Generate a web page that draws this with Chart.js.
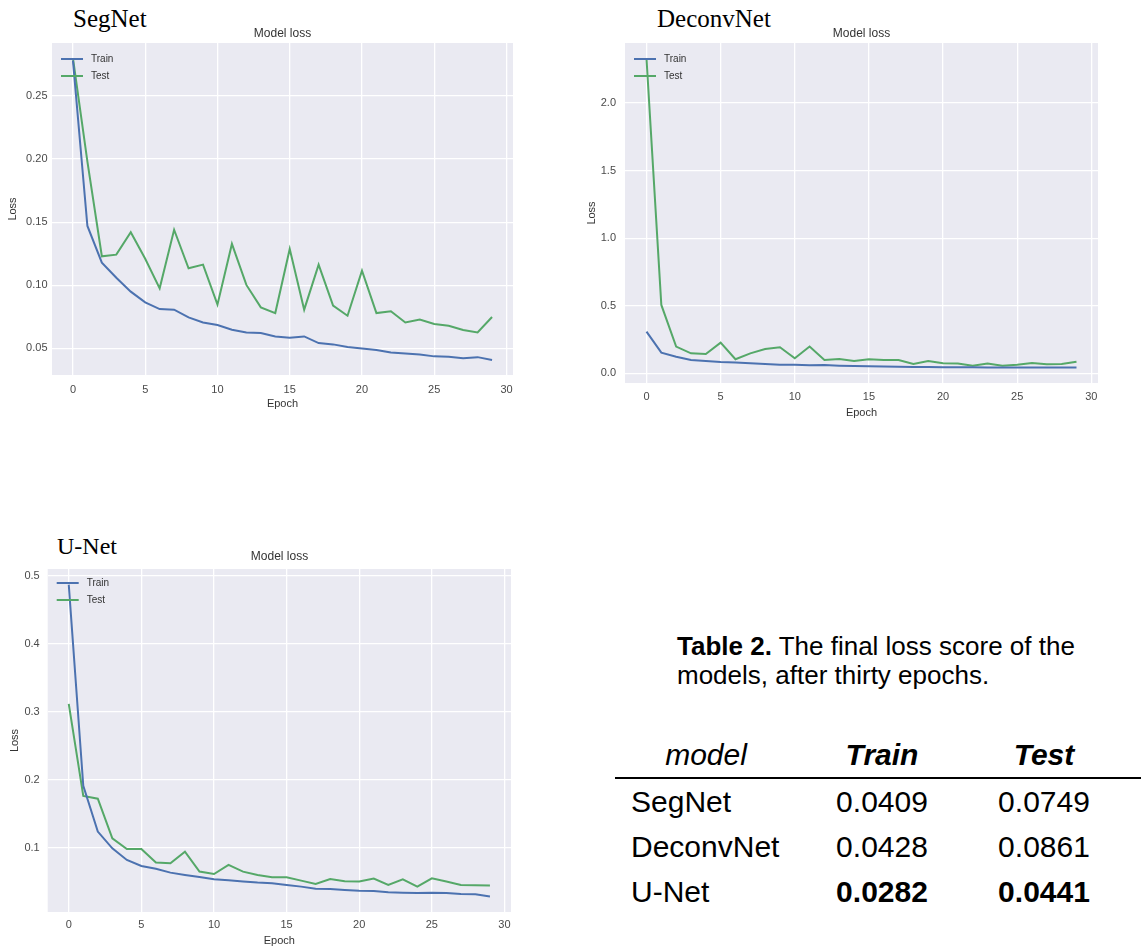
<!DOCTYPE html>
<html>
<head>
<meta charset="utf-8">
<script src="https://cdn.jsdelivr.net/npm/chart.js@4.4.1/dist/chart.umd.min.js"></script>
<style>
  html, body { margin: 0; padding: 0; background: #fff; }
  #page { position: relative; width: 1141px; height: 949px; overflow: hidden; }
  canvas { position: absolute; }
  .name { position: absolute; font-family: "Liberation Serif", "Times New Roman", serif; font-size: 25px; line-height: 25px; color: #000; }
  .caption { position: absolute; left: 677px; top: 632px; font-family: "Liberation Sans", Arial, sans-serif; font-size: 26px; line-height: 29px; color: #000; }
  table.scores { position: absolute; left: 615px; top: 732px; width: 526px; border-collapse: collapse; table-layout: fixed;
    font-family: "Liberation Sans", Arial, sans-serif; font-size: 30px; line-height: 45px; color: #000; }
  table.scores td, table.scores th { padding: 0; text-align: center; font-weight: normal; white-space: nowrap; }
  table.scores thead th { border-bottom: 2px solid #000; }
  table.scores td.model { text-align: left; padding-left: 16px; }
</style>
</head>
<body>
<div id="page">
  <div class="name" style="left:73px; top:6px;">SegNet</div>
  <div class="name" style="left:657px; top:6px;">DeconvNet</div>
  <div class="name" style="left:57px; top:534px; font-size:24px;">U-Net</div>

  <canvas id="chartSegNet" width="565" height="420" style="left:0px; top:0px;"></canvas>
  <canvas id="chartDeconvNet" width="559" height="430" style="left:582px; top:0px;"></canvas>
  <canvas id="chartUNet" width="559" height="419" style="left:0px; top:530px;"></canvas>

  <div class="caption"><b>Table 2.</b> The final loss score of the<br>models, after thirty epochs.</div>
  <table class="scores">
    <colgroup><col style="width:182px"><col style="width:170px"><col style="width:154px"><col style="width:20px"></colgroup>
    <thead>
      <tr><th><i>model</i></th><th><b><i>Train</i></b></th><th><b><i>Test</i></b></th><th></th></tr>
    </thead>
    <tbody id="scoreRows"></tbody>
  </table>
</div>

<script>
// valores
const EPOCHS = [0, 1, 2, 3, 4, 5, 6, 7, 8, 9, 10, 11, 12, 13, 14, 15, 16, 17, 18, 19, 20, 21, 22, 23, 24, 25, 26, 27, 28, 29];
const X_TICKS = [0, 5, 10, 15, 20, 25, 30];

const SEGNET_TRAIN = [0.278, 0.147, 0.118, 0.106, 0.095, 0.0865, 0.0812, 0.0807, 0.0746, 0.0706, 0.0685, 0.0648, 0.0627, 0.0622, 0.0595, 0.0585, 0.0595, 0.0542, 0.0532, 0.0511, 0.0500, 0.0487, 0.0468, 0.0460, 0.0452, 0.0437, 0.0434, 0.0423, 0.0431, 0.0409];
const SEGNET_TEST = [0.280, 0.198, 0.123, 0.1243, 0.142, 0.121, 0.0976, 0.144, 0.1135, 0.1164, 0.0847, 0.1328, 0.1003, 0.0825, 0.0780, 0.1288, 0.0807, 0.1164, 0.0839, 0.0759, 0.1116, 0.0780, 0.0794, 0.0706, 0.0728, 0.0693, 0.0680, 0.0646, 0.0627, 0.0749];
const SEGNET_Y_TICKS = [0.05, 0.10, 0.15, 0.20, 0.25];

const DECONV_TRAIN = [0.309, 0.153, 0.123, 0.099, 0.091, 0.084, 0.081, 0.074, 0.069, 0.064, 0.064, 0.059, 0.062, 0.057, 0.054, 0.052, 0.050, 0.049, 0.047, 0.047, 0.045, 0.045, 0.045, 0.044, 0.044, 0.043, 0.044, 0.043, 0.043, 0.0428];
const DECONV_TEST = [2.33, 0.506, 0.198, 0.148, 0.143, 0.227, 0.104, 0.148, 0.180, 0.193, 0.111, 0.198, 0.099, 0.106, 0.091, 0.104, 0.099, 0.099, 0.069, 0.091, 0.074, 0.072, 0.057, 0.072, 0.057, 0.064, 0.077, 0.067, 0.069, 0.0861];
const DECONV_Y_TICKS = [0.0, 0.5, 1.0, 1.5, 2.0];

const UNET_TRAIN = [0.487, 0.191, 0.1236, 0.099, 0.0818, 0.073, 0.069, 0.0632, 0.0598, 0.0568, 0.0534, 0.0519, 0.050, 0.0485, 0.0475, 0.045, 0.0426, 0.0396, 0.0391, 0.0377, 0.0367, 0.0362, 0.0342, 0.0337, 0.0333, 0.0337, 0.0333, 0.0318, 0.0313, 0.0282];
const UNET_TEST = [0.3115, 0.176, 0.172, 0.1137, 0.098, 0.098, 0.078, 0.077, 0.094, 0.0647, 0.0612, 0.0745, 0.0647, 0.0598, 0.0563, 0.0563, 0.0514, 0.0465, 0.0539, 0.0504, 0.050, 0.0544, 0.045, 0.0534, 0.0426, 0.0548, 0.050, 0.045, 0.0445, 0.0441];
const UNET_Y_TICKS = [0.1, 0.2, 0.3, 0.4, 0.5];

// tabla 2
const TABLE_MODELS = ['SegNet', 'DeconvNet', 'U-Net'];
const TABLE_TRAIN = ['0.0409', '0.0428', '0.0282'];
const TABLE_TEST = ['0.0749', '0.0861', '0.0441'];
const TABLE_BEST_ROW = 2;

(() => {
  const FONT = '"Liberation Sans", Arial, sans-serif';
  const BLUE = '#4C72B0';
  const GREEN = '#55A868';
  const TICK_COLOR = '#4a4a4a';

  // margen de 5% como matplotlib
  const pad5 = (lo, hi) => { const m = (hi - lo) * 0.05; return [lo - m, hi + m]; };
  const toPoints = arr => EPOCHS.map((e, i) => ({ x: e, y: arr[i] }));

  const plotBg = {
    id: 'plotBg',
    beforeDraw(chart) {
      const { ctx, chartArea: a } = chart;
      ctx.save();
      ctx.fillStyle = '#EAEAF2';
      ctx.fillRect(a.left, a.top, a.right - a.left, a.bottom - a.top);
      ctx.restore();
    }
  };

  // leyenda dentro del area, estilo matplotlib (upper left)
  const innerLegend = {
    id: 'innerLegend',
    afterDraw(chart, args, opts) {
      const { ctx, chartArea: a } = chart;
      ctx.save();
      ctx.font = `10px ${FONT}`;
      ctx.textBaseline = 'middle';
      chart.data.datasets.forEach((ds, i) => {
        const y = a.top + opts.top + i * 17;
        ctx.strokeStyle = ds.borderColor;
        ctx.lineWidth = ds.borderWidth;
        ctx.beginPath();
        ctx.moveTo(a.left + 9, y);
        ctx.lineTo(a.left + 31, y);
        ctx.stroke();
        ctx.fillStyle = '#333';
        ctx.fillText(ds.label, a.left + 39, y);
      });
      ctx.restore();
    }
  };

  function drawLossChart(id, train, test, yTicks, decimals, g) {
    const all = train.concat(test);
    const [ymin, ymax] = pad5(Math.min(...all), Math.max(...all));
    const [xmin, xmax] = pad5(EPOCHS[0], EPOCHS[EPOCHS.length - 1]);
    const line = (label, data, color) => ({
      label, data: toPoints(data), borderColor: color, backgroundColor: color,
      borderWidth: 2, pointRadius: 0, tension: 0
    });
    return new Chart(document.getElementById(id), {
      type: 'line',
      data: { datasets: [line('Train', train, BLUE), line('Test', test, GREEN)] },
      options: {
        responsive: false,
        animation: false,
        layout: { padding: 0 },
        plugins: {
          title: {
            display: true, text: 'Model loss', color: '#333',
            font: { size: 12, family: FONT, weight: 'normal' },
            padding: { top: g.titleTop, bottom: g.titleBottom }
          },
          legend: { display: false },
          innerLegend: { top: g.legendTop },
          tooltip: { enabled: false }
        },
        scales: {
          x: {
            type: 'linear', min: xmin, max: xmax,
            afterBuildTicks: s => { s.ticks = X_TICKS.map(v => ({ value: v })); },
            afterFit: s => { s.height = g.xh; },
            grid: { color: '#ffffff', lineWidth: 1.3, drawTicks: false },
            border: { display: false },
            ticks: { padding: g.xpad, color: TICK_COLOR, maxRotation: 0, autoSkip: false,
                     font: { size: 11, family: FONT }, callback: v => String(v) },
            title: { display: true, text: 'Epoch', color: '#333', font: { size: 11, family: FONT },
                     padding: { top: 0, bottom: g.epochPad } }
          },
          y: {
            type: 'linear', min: ymin, max: ymax,
            afterBuildTicks: s => { s.ticks = yTicks.map(v => ({ value: v })); },
            afterFit: s => { s.width = g.yw; },
            grid: { color: '#ffffff', lineWidth: 1.3, drawTicks: false },
            border: { display: false },
            ticks: { padding: g.ypad, color: TICK_COLOR, autoSkip: false,
                     font: { size: 11, family: FONT }, callback: v => Number(v).toFixed(decimals) },
            title: { display: true, text: 'Loss', color: '#333', font: { size: 11, family: FONT },
                     padding: { top: g.lossPad, bottom: 0 } }
          },
          // eje vacio a la derecha: deja margen sin descentrar el titulo
          yPad: {
            type: 'linear', position: 'right',
            afterFit: s => { s.width = g.right; },
            grid: { display: false }, border: { display: false }, ticks: { display: false }
          }
        }
      },
      plugins: [plotBg, innerLegend]
    });
  }

  drawLossChart('chartSegNet', SEGNET_TRAIN, SEGNET_TEST, SEGNET_Y_TICKS, 2,
    { right: 52, titleTop: 26, titleBottom: 2.6, xh: 45, xpad: 8, epochPad: 9.4, yw: 52, ypad: 4.5, lossPad: 6.7, legendTop: 16 });
  drawLossChart('chartDeconvNet', DECONV_TRAIN, DECONV_TEST, DECONV_Y_TICKS, 1,
    { right: 43, titleTop: 26, titleBottom: 2.6, xh: 47, xpad: 7, epochPad: 10.4, yw: 43, ypad: 9, lossPad: 3.4, legendTop: 16 });
  drawLossChart('chartUNet', UNET_TRAIN, UNET_TEST, UNET_Y_TICKS, 1,
    { right: 48, titleTop: 19.8, titleBottom: 4.8, xh: 37, xpad: 6, epochPad: 1.4, yw: 47.7, ypad: 8, lossPad: 8.4, legendTop: 14 });

  // filas de la tabla
  const tbody = document.getElementById('scoreRows');
  tbody.innerHTML = TABLE_MODELS.map((m, i) => {
    const wrap = t => i === TABLE_BEST_ROW ? `<b>${t}</b>` : t;
    return `<tr><td class="model">${m}</td><td>${wrap(TABLE_TRAIN[i])}</td><td>${wrap(TABLE_TEST[i])}</td><td></td></tr>`;
  }).join('');
})();
</script>
</body>
</html>
